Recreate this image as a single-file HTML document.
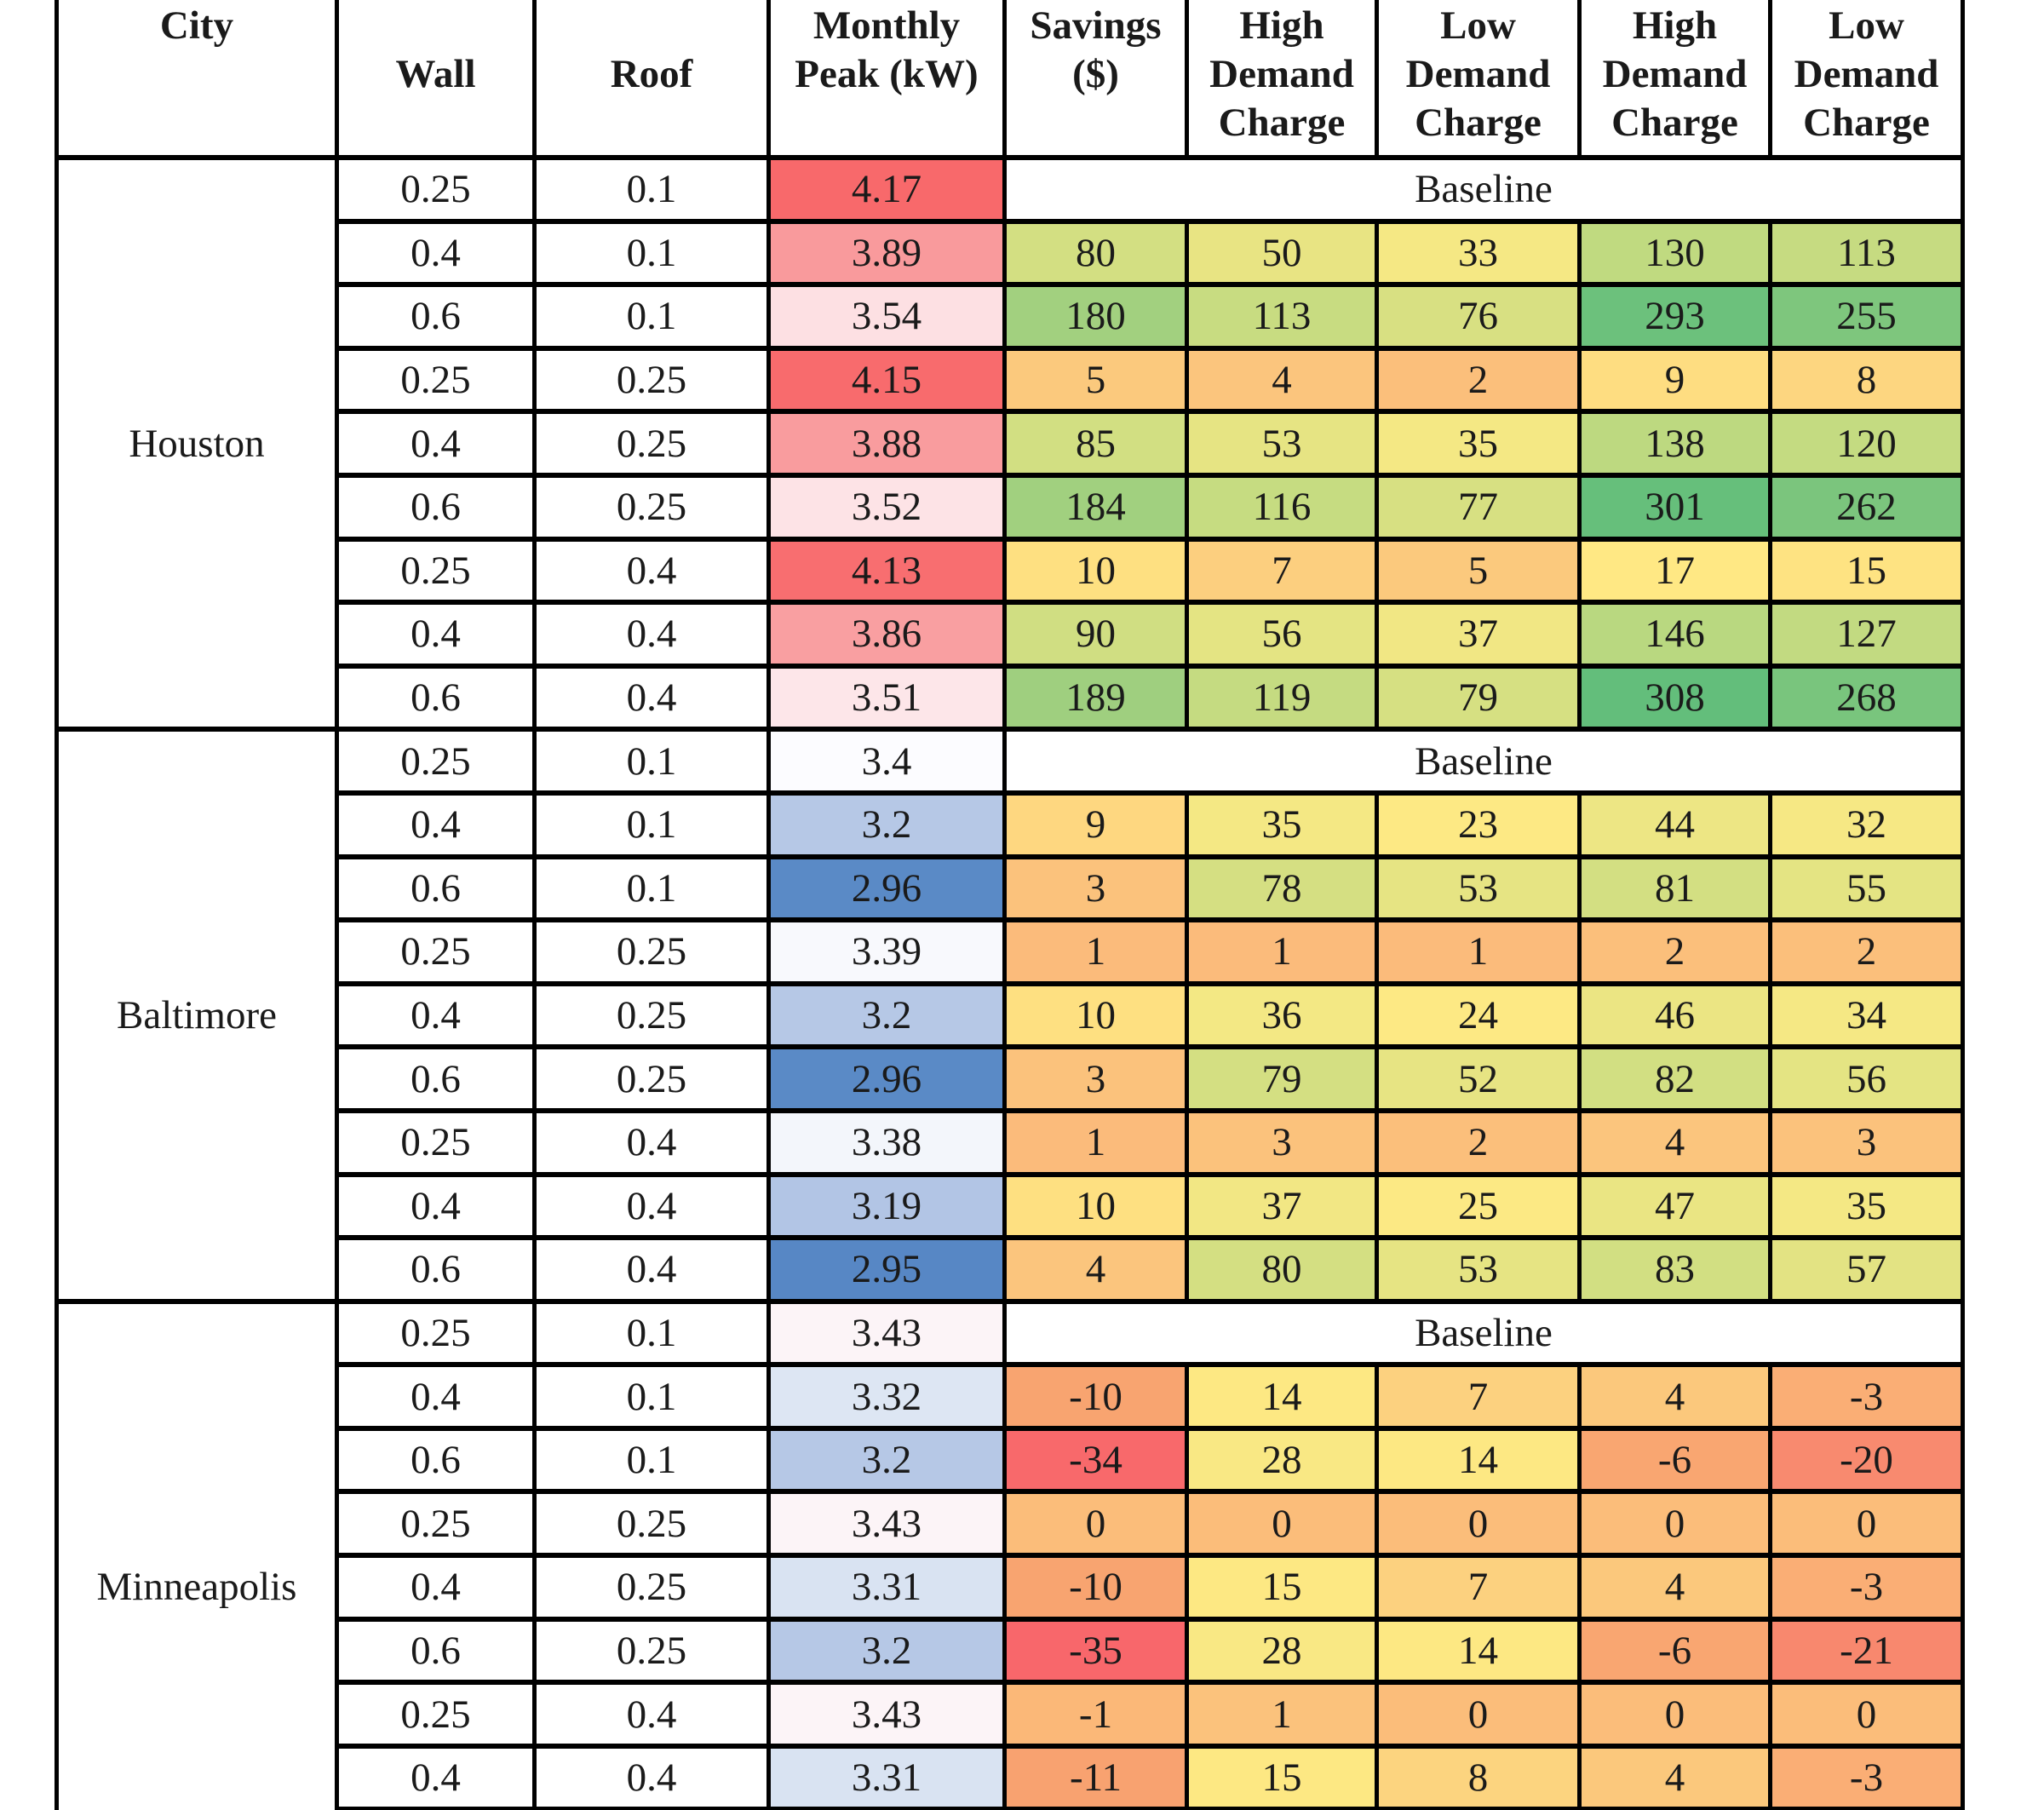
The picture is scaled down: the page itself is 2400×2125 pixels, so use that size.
<!DOCTYPE html>
<html><head><meta charset="utf-8"><style>
html,body{margin:0;padding:0;background:#fff;width:2400px;height:2125px;overflow:hidden}
#w{position:relative;width:2400px;height:2125px;overflow:hidden}
table{position:absolute;left:64px;top:-3px;border-collapse:collapse;table-layout:fixed;font-family:"Liberation Serif","Times New Roman","DejaVu Serif",serif;font-size:47px;color:#1a1a1a}
td{border-left:5px solid #000;border-right:5px solid #000;border-top:6px solid #000;border-bottom:6px solid #000;text-align:center;vertical-align:middle;padding:0;line-height:50px;white-space:nowrap;overflow:hidden}
tr{height:74.6px}
tr.h{height:188px}
tr.h td{font-weight:bold;vertical-align:top;line-height:57px;padding-top:5px;border-top:none}
</style></head><body><div id="w">
<table>
<colgroup><col style="width:329px"><col style="width:232px"><col style="width:275px"><col style="width:277px"><col style="width:214px"><col style="width:223px"><col style="width:238px"><col style="width:224px"><col style="width:226px"></colgroup>
<tr class="h"><td>City</td><td><br>Wall</td><td><br>Roof</td><td>Monthly<br>Peak (kW)</td><td>Savings<br>($)</td><td>High<br>Demand<br>Charge</td><td>Low<br>Demand<br>Charge</td><td>High<br>Demand<br>Charge</td><td>Low<br>Demand<br>Charge</td></tr>

<tr><td rowspan="9">Houston</td><td>0.25</td><td>0.1</td><td style="background:#f8696b">4.17</td><td colspan="5" style="background:#fff">Baseline</td></tr>
<tr><td>0.4</td><td>0.1</td><td style="background:#f99a9c">3.89</td><td style="background:#d3df82">80</td><td style="background:#e8e483">50</td><td style="background:#f5e884">33</td><td style="background:#c0da80">130</td><td style="background:#c6db81">113</td></tr>
<tr><td>0.6</td><td>0.1</td><td style="background:#fde0e3">3.54</td><td style="background:#a2d07f">180</td><td style="background:#c8dc81">113</td><td style="background:#d8e082">76</td><td style="background:#6cc17c">293</td><td style="background:#7ec67d">255</td></tr>
<tr><td>0.25</td><td>0.25</td><td style="background:#f86b6d">4.15</td><td style="background:#fbc97d">5</td><td style="background:#fbc57d">4</td><td style="background:#fbbf7b">2</td><td style="background:#fedd81">9</td><td style="background:#fdd680">8</td></tr>
<tr><td>0.4</td><td>0.25</td><td style="background:#f99c9e">3.88</td><td style="background:#d2df82">85</td><td style="background:#e6e483">53</td><td style="background:#f4e884">35</td><td style="background:#bdd980">138</td><td style="background:#c4db81">120</td></tr>
<tr><td>0.6</td><td>0.25</td><td style="background:#fde3e6">3.52</td><td style="background:#a1d07f">184</td><td style="background:#c6dc81">116</td><td style="background:#d7e082">77</td><td style="background:#66bf7b">301</td><td style="background:#7bc57d">262</td></tr>
<tr><td>0.25</td><td>0.4</td><td style="background:#f86e70">4.13</td><td style="background:#fee081">10</td><td style="background:#fccf7f">7</td><td style="background:#fbc97d">5</td><td style="background:#ffe884">17</td><td style="background:#fee382">15</td></tr>
<tr><td>0.4</td><td>0.4</td><td style="background:#f99fa1">3.86</td><td style="background:#d0de82">90</td><td style="background:#e4e483">56</td><td style="background:#f1e784">37</td><td style="background:#b9d880">146</td><td style="background:#c2da81">127</td></tr>
<tr><td>0.6</td><td>0.4</td><td style="background:#fde6e9">3.51</td><td style="background:#9fcf7f">189</td><td style="background:#c5db81">119</td><td style="background:#d6e082">79</td><td style="background:#63be7b">308</td><td style="background:#79c57d">268</td></tr>

<tr><td rowspan="9">Baltimore</td><td>0.25</td><td>0.1</td><td style="background:#fcfcff">3.4</td><td colspan="5" style="background:#fff">Baseline</td></tr>
<tr><td>0.4</td><td>0.1</td><td style="background:#b6c8e6">3.2</td><td style="background:#fed780">9</td><td style="background:#f4e884">35</td><td style="background:#fde984">23</td><td style="background:#ede684">44</td><td style="background:#f6e884">32</td></tr>
<tr><td>0.6</td><td>0.1</td><td style="background:#5a8ac6">2.96</td><td style="background:#fbc27c">3</td><td style="background:#d5df82">78</td><td style="background:#e6e483">53</td><td style="background:#d3df82">81</td><td style="background:#e4e483">55</td></tr>
<tr><td>0.25</td><td>0.25</td><td style="background:#f8f9fd">3.39</td><td style="background:#fbbb7b">1</td><td style="background:#fbbb7b">1</td><td style="background:#fbbb7b">1</td><td style="background:#fbbf7b">2</td><td style="background:#fbbf7b">2</td></tr>
<tr><td>0.4</td><td>0.25</td><td style="background:#b6c8e6">3.2</td><td style="background:#fee081">10</td><td style="background:#f3e884">36</td><td style="background:#fde984">24</td><td style="background:#ebe583">46</td><td style="background:#f5e884">34</td></tr>
<tr><td>0.6</td><td>0.25</td><td style="background:#5a8ac6">2.96</td><td style="background:#fbc27c">3</td><td style="background:#d4df82">79</td><td style="background:#e7e483">52</td><td style="background:#d2df82">82</td><td style="background:#e4e483">56</td></tr>
<tr><td>0.25</td><td>0.4</td><td style="background:#f3f6fb">3.38</td><td style="background:#fbbb7b">1</td><td style="background:#fbc27c">3</td><td style="background:#fbbf7b">2</td><td style="background:#fbc57d">4</td><td style="background:#fbc27c">3</td></tr>
<tr><td>0.4</td><td>0.4</td><td style="background:#b2c5e5">3.19</td><td style="background:#fee081">10</td><td style="background:#f2e784">37</td><td style="background:#fce984">25</td><td style="background:#eae583">47</td><td style="background:#f4e884">35</td></tr>
<tr><td>0.6</td><td>0.4</td><td style="background:#5787c5">2.95</td><td style="background:#fbc57d">4</td><td style="background:#d4df82">80</td><td style="background:#e6e483">53</td><td style="background:#d2df82">83</td><td style="background:#e3e383">57</td></tr>

<tr><td rowspan="9">Minneapolis</td><td>0.25</td><td>0.1</td><td style="background:#fcf4f7">3.43</td><td colspan="5" style="background:#fff">Baseline</td></tr>
<tr><td>0.4</td><td>0.1</td><td style="background:#dde6f3">3.32</td><td style="background:#f8a470">-10</td><td style="background:#fde883">14</td><td style="background:#fcd17f">7</td><td style="background:#fbc87c">4</td><td style="background:#faae75">-3</td></tr>
<tr><td>0.6</td><td>0.1</td><td style="background:#b6c8e6">3.2</td><td style="background:#f8696b">-34</td><td style="background:#f9e884">28</td><td style="background:#fde883">14</td><td style="background:#f9a671">-6</td><td style="background:#f88a6f">-20</td></tr>
<tr><td>0.25</td><td>0.25</td><td style="background:#fcf4f7">3.43</td><td style="background:#fbbd7a">0</td><td style="background:#fbbd7a">0</td><td style="background:#fbbd7a">0</td><td style="background:#fbbd7a">0</td><td style="background:#fbbd7a">0</td></tr>
<tr><td>0.4</td><td>0.25</td><td style="background:#d9e3f2">3.31</td><td style="background:#f8a470">-10</td><td style="background:#fde883">15</td><td style="background:#fcd17f">7</td><td style="background:#fbc87c">4</td><td style="background:#faae75">-3</td></tr>
<tr><td>0.6</td><td>0.25</td><td style="background:#b6c8e6">3.2</td><td style="background:#f8676b">-35</td><td style="background:#f9e884">28</td><td style="background:#fde883">14</td><td style="background:#f9a671">-6</td><td style="background:#f8886e">-21</td></tr>
<tr><td>0.25</td><td>0.4</td><td style="background:#fcf4f7">3.43</td><td style="background:#fbb878">-1</td><td style="background:#fbc27c">1</td><td style="background:#fbbd7a">0</td><td style="background:#fbbd7a">0</td><td style="background:#fbbd7a">0</td></tr>
<tr><td>0.4</td><td>0.4</td><td style="background:#d9e3f2">3.31</td><td style="background:#f8a270">-11</td><td style="background:#fde883">15</td><td style="background:#fcd47f">8</td><td style="background:#fbc87c">4</td><td style="background:#faae75">-3</td></tr>
<tr><td>0.6</td><td>0.4</td><td style="background:#b6c8e6">3.2</td><td style="background:#f8696b">-35</td><td style="background:#f9e884">28</td><td style="background:#fde883">15</td><td style="background:#f9a671">-6</td><td style="background:#f8886e">-21</td></tr>
</table>
</div></body></html>
